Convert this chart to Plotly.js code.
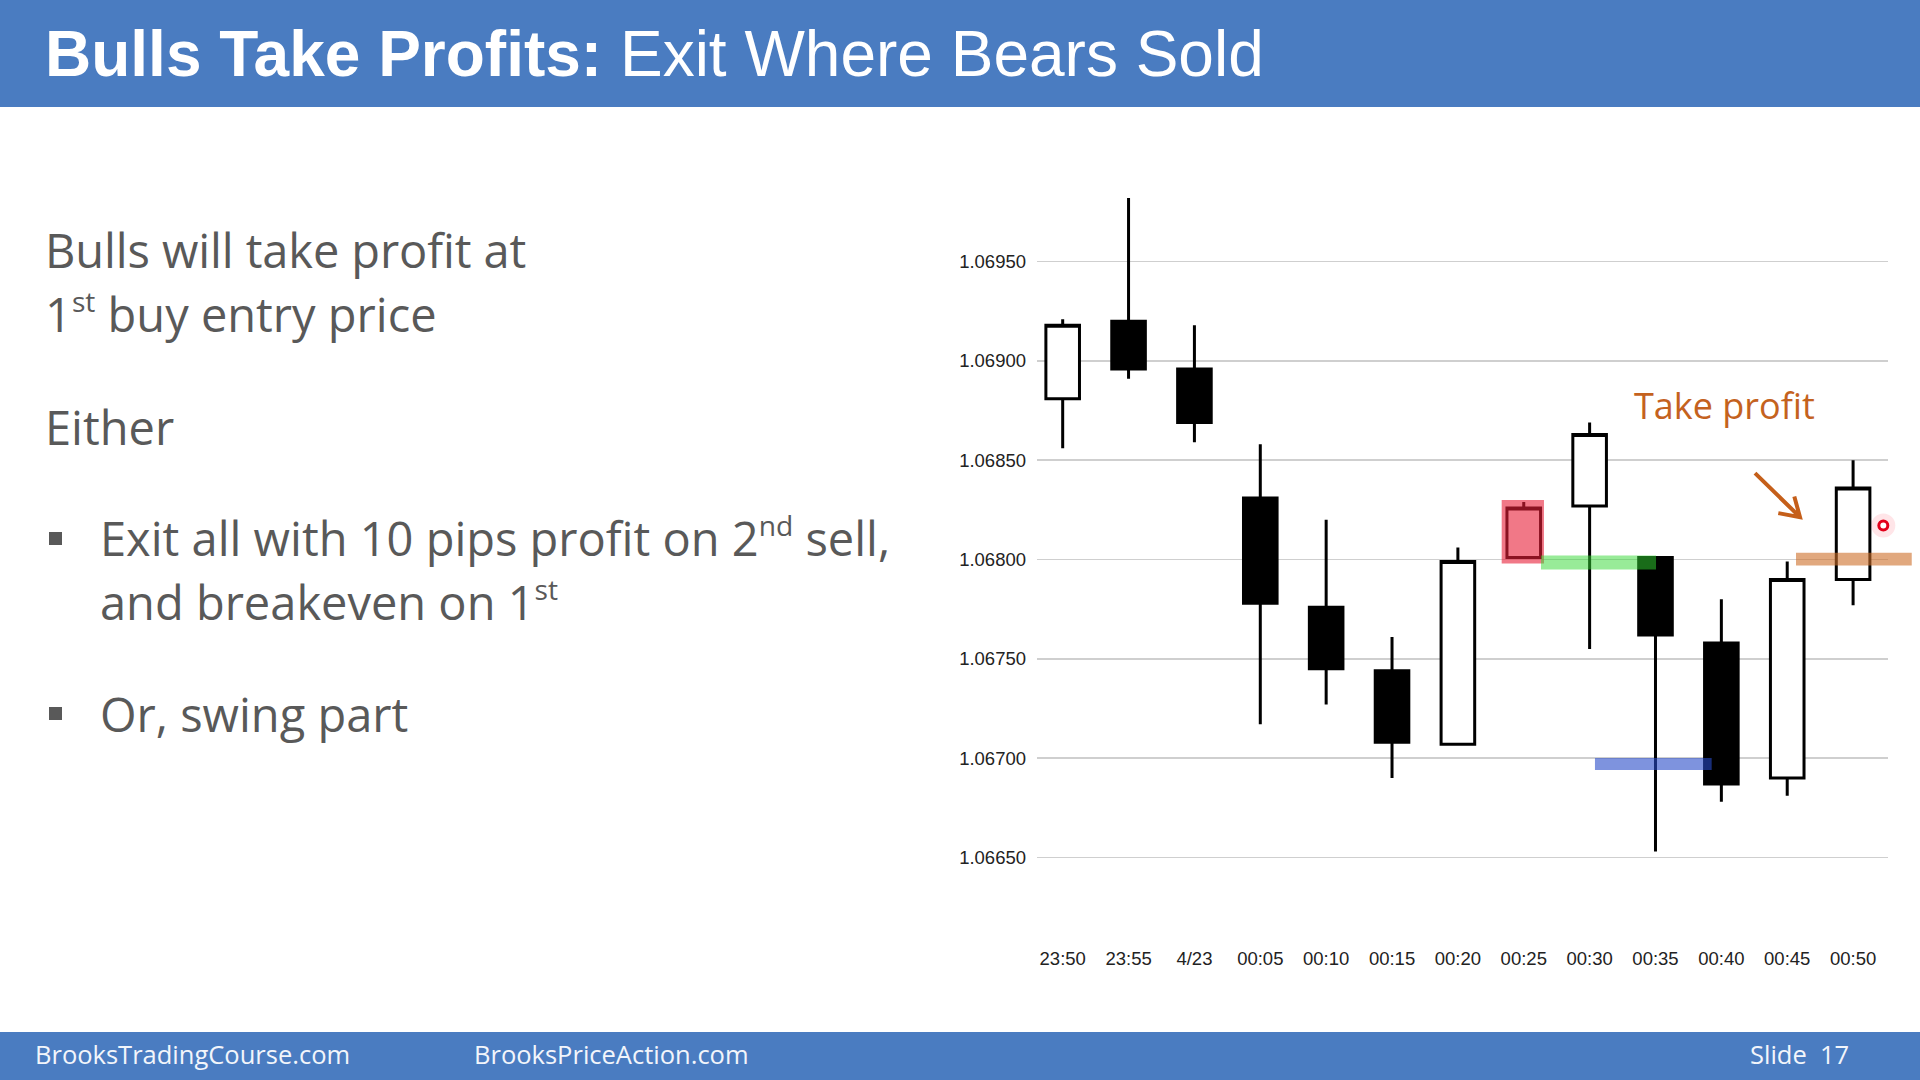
<!DOCTYPE html>
<html>
<head>
<meta charset="utf-8">
<script src="https://cdn.plot.ly/plotly-3.0.1.min.js"></script>
<style>
  html, body { margin:0; padding:0; width:1920px; height:1080px; overflow:hidden; background:#fff; }
  #chart { position:absolute; left:0; top:0; width:1920px; height:1080px; }
  .ov { position:absolute; pointer-events:none; white-space:pre; }
  .hdr { left:0; top:0; width:1920px; height:107px; background:#4A7CC1; }
  .ftr { left:0; top:1032px; width:1920px; height:48px; background:#4A7CC1; }
  .title { left:45px; top:22px; font-family:'Liberation Sans', Arial, sans-serif; font-size:64px; line-height:1; color:#fff; }
  .body { font-family:'Open Sans', sans-serif; font-size:47px; line-height:1; color:#595959; }
  .body sup { font-size:0.6em; vertical-align:0; position:relative; top:-0.7em; }
  .bul { width:13px; height:13px; background:#595959; }
  .foot { font-family:'Open Sans', sans-serif; font-size:25.5px; line-height:1; color:#F2F5FB; top:1042px; }
  .tp { font-family:'Open Sans', sans-serif; font-size:36px; line-height:1; color:#C4621E; left:1634px; top:388px; }
</style>
</head>
<body>
<div id="chart"></div>

<div class="ov hdr"></div>
<div class="ov title"><b>Bulls Take Profits:</b> Exit Where Bears Sold</div>

<div class="ov body" style="left:45px; top:227px; letter-spacing:-0.1px;">Bulls will take profit at</div>
<div class="ov body" style="left:45px; top:291px;">1<sup>st</sup> buy entry price</div>
<div class="ov body" style="left:45px; top:404px;">Either</div>
<div class="ov bul" style="left:49px; top:532px;"></div>
<div class="ov body" style="left:100px; top:515px;">Exit all with 10 pips profit on 2<sup>nd</sup> sell,</div>
<div class="ov body" style="left:100px; top:579px;">and breakeven on 1<sup>st</sup></div>
<div class="ov bul" style="left:49px; top:707px;"></div>
<div class="ov body" style="left:100px; top:691px;">Or, swing part</div>

<div class="ov tp">Take profit</div>

<div class="ov ftr"></div>
<div class="ov foot" style="left:35px;">BrooksTradingCourse.com</div>
<div class="ov foot" style="left:474px;">BrooksPriceAction.com</div>
<div class="ov foot" style="left:1750px;">Slide  17</div>

<script>
// ---- data (EUR/USD 5-minute bars) ----
var times  = ['23:50','23:55','4/23','00:05','00:10','00:15','00:20','00:25','00:30','00:35','00:40','00:45','00:50'];
var opens  = [1.06881, 1.06920, 1.06896, 1.06831, 1.06776, 1.06744, 1.06707, 1.06801, 1.06827, 1.06801, 1.06758, 1.06690, 1.06790];
var highs  = [1.06921, 1.06982, 1.06918, 1.06858, 1.06820, 1.06761, 1.06806, 1.06829, 1.06869, 1.06801, 1.06780, 1.06799, 1.06850];
var lows   = [1.06856, 1.06891, 1.06859, 1.06717, 1.06727, 1.06690, 1.06707, 1.06801, 1.06755, 1.06653, 1.06678, 1.06681, 1.06777];
var closes = [1.06918, 1.06896, 1.06869, 1.06778, 1.06745, 1.06708, 1.06799, 1.06826, 1.06863, 1.06762, 1.06687, 1.06790, 1.06836];
var yTicks = [1.06650, 1.06700, 1.06750, 1.06800, 1.06850, 1.06900, 1.06950];

var trace = {
  type: 'candlestick',
  x: times, open: opens, high: highs, low: lows, close: closes,
  increasing: { line: { color: '#000', width: 3 }, fillcolor: '#ffffff' },
  decreasing: { line: { color: '#000', width: 3 }, fillcolor: '#000000' },
  whiskerwidth: 0,
  showlegend: false,
  hoverinfo: 'skip'
};

var tickFont = { family: "'Liberation Sans', Arial, sans-serif", size: 18.5, color: '#222' };

var layout = {
  width: 1920, height: 1080,
  margin: { l: 1037, r: 32, t: 182, b: 135, pad: 0 },
  paper_bgcolor: '#fff', plot_bgcolor: '#fff',
  boxgap: 0.49,
  boxgroupgap: 0,
  showlegend: false,
  xaxis: {
    type: 'category',
    range: [-0.39, 12.53],
    rangeslider: { visible: false },
    showgrid: false, zeroline: false, showline: false, ticks: '',
    tickfont: tickFont,
    ticklabelstandoff: 0,
    fixedrange: true
  },
  yaxis: {
    range: [1.066059, 1.069901],
    tickvals: yTicks,
    tickformat: '.5f',
    showgrid: true, gridcolor: '#CFCFCF', gridwidth: 1.6,
    zeroline: false, showline: false, ticks: '',
    tickfont: tickFont,
    ticklabelstandoff: 10,
    fixedrange: true
  },
  shapes: [
    // red highlight on the 00:25 bar
    { type: 'rect', xref: 'x', yref: 'y', x0: 6.665, x1: 7.307, y0: 1.06798, y1: 1.06830,
      fillcolor: 'rgba(232,30,55,0.6)', line: { width: 0 }, layer: 'above' },
    // green level line
    { type: 'rect', xref: 'x', yref: 'y', x0: 7.262, x1: 9.008, y0: 1.06795, y1: 1.06802,
      fillcolor: 'rgba(50,215,50,0.5)', line: { width: 0 }, layer: 'above' },
    // blue level line
    { type: 'rect', xref: 'x', yref: 'y', x0: 8.081, x1: 9.853, y0: 1.06694, y1: 1.06700,
      fillcolor: 'rgba(40,75,200,0.6)', line: { width: 0 }, layer: 'above' },
    // orange take-profit level
    { type: 'rect', xref: 'paper', yref: 'paper', x0: 0.8919, x1: 1.0279, y0: 0.4973, y1: 0.5140,
      fillcolor: 'rgba(205,110,40,0.6)', line: { width: 0 }, layer: 'above' },
    // arrow
    { type: 'path', xref: 'paper', yref: 'paper',
      path: 'M0.8437,0.6185 L0.8966,0.5608 M0.8711,0.5660 L0.8966,0.5608 L0.8899,0.5878',
      line: { color: '#C55F1A', width: 4 }, layer: 'above' },
    // cursor dot
    { type: 'circle', xref: 'paper', yref: 'paper', xsizemode: 'pixel', ysizemode: 'pixel',
      xanchor: 0.9945, yanchor: 0.5498, x0: -12, x1: 12, y0: -12, y1: 12,
      fillcolor: 'rgba(255,70,90,0.14)', line: { width: 0 }, layer: 'above' },
    { type: 'circle', xref: 'paper', yref: 'paper', xsizemode: 'pixel', ysizemode: 'pixel',
      xanchor: 0.9945, yanchor: 0.5498, x0: -4.5, x1: 4.5, y0: -4.5, y1: 4.5,
      fillcolor: '#ffffff', line: { color: '#E3001B', width: 3 }, layer: 'above' }
  ]
};

Plotly.newPlot('chart', [trace], layout, { displayModeBar: false, staticPlot: true });
</script>
</body>
</html>
